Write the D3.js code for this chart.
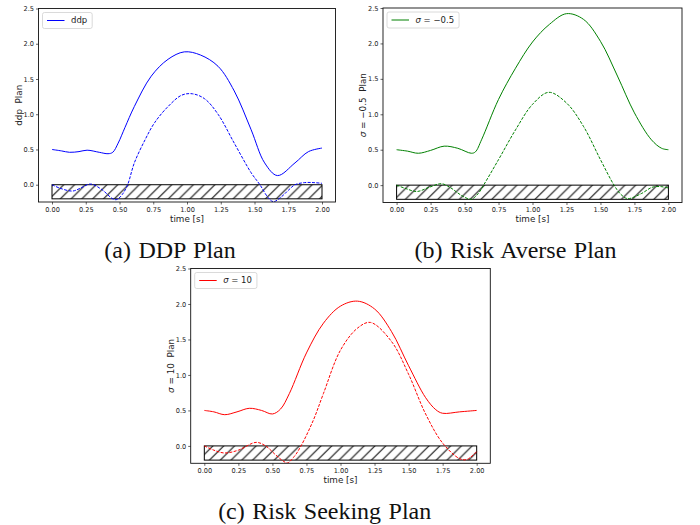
<!DOCTYPE html>
<html>
<head>
<meta charset="utf-8">
<script src="https://cdn.jsdelivr.net/npm/d3@7"></script>
<style>
  body { margin: 0; background: white; }
  .tick text { font-family: "DejaVu Sans", sans-serif; fill: #222; }
</style>
</head>
<body>
<div id="figure"></div>
<script>
// ---- data ----
let xTicks = [0, 0.25, 0.5, 0.75, 1.0, 1.25, 1.5, 1.75, 2.0];
let yTicks = [0, 0.5, 1.0, 1.5, 2.0, 2.5];
let obstacleTop = 0;
let obstacleBottom = -0.2;

// (a) DDP plan
let ddpSolidT = [0, 0.07, 0.13, 0.2, 0.26, 0.35, 0.415, 0.45, 0.49, 0.54, 0.61, 0.735, 0.86, 0.98, 1.1, 1.23, 1.35, 1.475, 1.575, 1.67, 1.8, 1.9, 2.0];
let ddpSolidV = [0.50, 0.48, 0.46, 0.47, 0.49, 0.46, 0.44, 0.46, 0.59, 0.81, 1.11, 1.54, 1.78, 1.885, 1.84, 1.68, 1.33, 0.78, 0.31, 0.13, 0.31, 0.47, 0.52];
let ddpDashT = [0, 0.06, 0.15, 0.21, 0.285, 0.37, 0.45, 0.48, 0.52, 0.56, 0.61, 0.69, 0.76, 0.86, 0.96, 1.04, 1.13, 1.23, 1.35, 1.475, 1.54, 1.6, 1.64, 1.7, 1.75, 1.8, 1.87, 1.94, 2.0];
let ddpDashV = [0, -0.05, -0.09, -0.05, 0.01, -0.07, -0.20, -0.21, -0.14, 0, 0.31, 0.64, 0.88, 1.11, 1.27, 1.29, 1.22, 1.0, 0.59, 0.17, 0, -0.18, -0.24, -0.17, -0.08, 0, 0.03, 0.03, 0.02];

// (b) risk averse, sigma = -0.5
let averseSolidT = [0, 0.08, 0.16, 0.25, 0.35, 0.45, 0.55, 0.58, 0.625, 0.75, 0.875, 1.0, 1.125, 1.25, 1.375, 1.5, 1.625, 1.75, 1.875, 1.95, 2.0];
let averseSolidV = [0.50, 0.48, 0.45, 0.49, 0.55, 0.52, 0.45, 0.47, 0.64, 1.21, 1.65, 2.02, 2.27, 2.42, 2.34, 2.03, 1.54, 1.02, 0.64, 0.52, 0.50];
let averseDashT = [0, 0.07, 0.15, 0.24, 0.33, 0.4, 0.45, 0.5, 0.55, 0.6, 0.64, 0.75, 0.875, 1.0, 1.12, 1.25, 1.375, 1.5, 1.6, 1.65, 1.7, 1.8, 1.88, 1.94, 2.0];
let averseDashV = [0, -0.05, -0.09, -0.03, 0.02, -0.04, -0.11, -0.17, -0.20, -0.12, 0, 0.36, 0.78, 1.14, 1.31, 1.16, 0.83, 0.36, 0, -0.13, -0.19, -0.12, -0.03, -0.02, -0.04];

// (c) risk seeking, sigma = 10
let seekingSolidT = [0, 0.07, 0.15, 0.24, 0.33, 0.42, 0.5, 0.56, 0.625, 0.75, 0.875, 1.0, 1.125, 1.25, 1.375, 1.5, 1.625, 1.7, 1.75, 1.875, 2.0];
let seekingSolidV = [0.50, 0.48, 0.44, 0.48, 0.53, 0.50, 0.45, 0.52, 0.74, 1.31, 1.73, 1.97, 2.04, 1.93, 1.61, 1.13, 0.68, 0.51, 0.46, 0.48, 0.50];
let seekingDashT = [0, 0.07, 0.15, 0.25, 0.38, 0.45, 0.52, 0.57, 0.61, 0.66, 0.71, 0.8, 0.875, 1.0, 1.125, 1.22, 1.375, 1.5, 1.625, 1.75, 1.875, 1.93, 2.0];
let seekingDashV = [0, -0.06, -0.10, -0.06, 0.05, 0.0, -0.12, -0.20, -0.24, -0.15, 0, 0.36, 0.74, 1.35, 1.66, 1.74, 1.47, 1.01, 0.45, 0.04, -0.18, -0.19, -0.08];

let panels = [
  {id: "a", left: 38.5, right: 335.5, top: 8.5, bottom: 202, color: "#0000ff",
   legend: [{t: "ddp"}], ylabel: [{t: "ddp  Plan"}], caption: "(a) DDP Plan", capX: 170, capY: 258,
   solid: [ddpSolidT, ddpSolidV], dash: [ddpDashT, ddpDashV]},
  {id: "b", left: 383, right: 682, top: 8, bottom: 202.5, color: "#008000",
   legend: [{t: "σ", it: true}, {t: " = −0.5"}], ylabel: [{t: "σ", it: true}, {t: " = −0.5  Plan"}],
   caption: "(b) Risk Averse Plan", capX: 515.5, capY: 258,
   solid: [averseSolidT, averseSolidV], dash: [averseDashT, averseDashV]},
  {id: "c", left: 190.7, right: 490.3, top: 268.5, bottom: 463.3, color: "#ff0000",
   legend: [{t: "σ", it: true}, {t: " = 10"}], ylabel: [{t: "σ", it: true}, {t: " = 10  Plan"}],
   caption: "(c) Risk Seeking Plan", capX: 324.7, capY: 518.5,
   solid: [seekingSolidT, seekingSolidV], dash: [seekingDashT, seekingDashV]}
];

let width = 700, height = 525;
let svg = d3.select("#figure").append("svg")
  .attr("width", width)
  .attr("height", height)
  .attr("viewBox", [0, 0, width, height]);

svg.append("rect").attr("width", width).attr("height", height).attr("fill", "white");

// hatch pattern for the obstacle band
let defs = svg.append("defs");
let hs = 10.8;
defs.append("pattern")
  .attr("id", "hatch")
  .attr("patternUnits", "userSpaceOnUse")
  .attr("width", hs).attr("height", hs)
  .append("path")
  .attr("d", `M-1,1 l2,-2 M0,${hs} l${hs},${-hs} M${hs - 1},${hs + 1} l2,-2`)
  .attr("stroke", "black")
  .attr("stroke-width", 1);

function addRich(sel, parts) {
  parts.forEach(p => {
    sel.append("tspan")
      .attr("font-style", p.it ? "italic" : null)
      .text(p.t);
  });
}

panels.forEach(p => {
  let x = d3.scaleLinear().domain([-0.1, 2.1]).range([p.left, p.right]);
  let y = d3.scaleLinear().domain([-0.245, 2.5]).range([p.bottom, p.top]);
  let g = svg.append("g");

  defs.append("clipPath").attr("id", "clip-" + p.id)
    .append("rect")
    .attr("x", p.left).attr("y", p.top)
    .attr("width", p.right - p.left).attr("height", p.bottom - p.top);

  // obstacle band
  g.append("rect")
    .attr("x", x(0))
    .attr("y", y(obstacleTop))
    .attr("width", x(2) - x(0))
    .attr("height", y(obstacleBottom) - y(obstacleTop))
    .attr("fill", "url(#hatch)")
    .attr("stroke", "black")
    .attr("stroke-width", 1);

  let line = d3.line()
    .x(d => x(d[0]))
    .y(d => y(d[1]))
    .curve(d3.curveCatmullRom.alpha(0.5));

  let lines = g.append("g").attr("clip-path", `url(#clip-${p.id})`)
    .attr("fill", "none")
    .attr("stroke", p.color)
    .attr("stroke-width", 1);

  lines.append("path")
    .attr("d", line(d3.zip(p.solid[0], p.solid[1])));
  lines.append("path")
    .attr("stroke-dasharray", "3,1.4")
    .attr("d", line(d3.zip(p.dash[0], p.dash[1])));

  // axes
  let xAxis = g.append("g")
    .attr("transform", `translate(0,${p.bottom})`)
    .call(d3.axisBottom(x).tickValues(xTicks).tickFormat(d3.format(".2f")).tickSize(2.5).tickPadding(2.5).tickSizeOuter(0));
  let yAxis = g.append("g")
    .attr("transform", `translate(${p.left},0)`)
    .call(d3.axisLeft(y).tickValues(yTicks).tickFormat(d3.format(".1f")).tickSize(2.5).tickPadding(2).tickSizeOuter(0));
  [xAxis, yAxis].forEach(a => {
    a.select(".domain").remove();
    a.selectAll(".tick line").attr("stroke", "#222").attr("stroke-width", 0.7);
    a.selectAll(".tick text").attr("font-size", 6.6);
  });

  // frame
  g.append("rect")
    .attr("x", p.left).attr("y", p.top)
    .attr("width", p.right - p.left).attr("height", p.bottom - p.top)
    .attr("fill", "none")
    .attr("stroke", "#111")
    .attr("stroke-width", 0.9);

  // axis labels
  g.append("text")
    .attr("x", (p.left + p.right) / 2)
    .attr("y", p.bottom + 19.5)
    .attr("text-anchor", "middle")
    .attr("font-family", "DejaVu Sans")
    .attr("font-size", 8.8)
    .attr("fill", "#222")
    .text("time [s]");

  let yl = g.append("text")
    .attr("transform", `translate(${p.left - 20},${(p.top + p.bottom) / 2}) rotate(-90)`)
    .attr("text-anchor", "middle")
    .attr("dy", "0.35em")
    .attr("font-family", "DejaVu Sans")
    .attr("font-size", 8.8)
    .attr("fill", "#222")
    .style("white-space", "pre");
  addRich(yl, p.ylabel);

  // legend
  let lg = g.append("g").attr("transform", `translate(${p.left + 4},${p.top + 4})`);
  let lbox = lg.append("rect")
    .attr("rx", 2)
    .attr("fill", "white")
    .attr("fill-opacity", 0.8)
    .attr("stroke", "#d0d0d0")
    .attr("stroke-width", 0.8);
  lg.append("line")
    .attr("x1", 4.5).attr("x2", 22)
    .attr("y1", 8).attr("y2", 8)
    .attr("stroke", p.color)
    .attr("stroke-width", 1);
  let lt = lg.append("text")
    .attr("x", 28.5).attr("y", 8)
    .attr("dy", "0.35em")
    .attr("font-family", "DejaVu Sans")
    .attr("font-size", 8.5)
    .attr("fill", "#222")
    .style("white-space", "pre");
  addRich(lt, p.legend);
  let tw = lt.node().getComputedTextLength();
  lbox.attr("width", 28.5 + tw + 5).attr("height", 16);

  // caption
  svg.append("text")
    .attr("x", p.capX)
    .attr("y", p.capY)
    .attr("text-anchor", "middle")
    .attr("font-family", "Liberation Serif")
    .attr("font-size", 24)
    .attr("word-spacing", 1.5)
    .attr("fill", "#111")
    .text(p.caption);
});
</script>
</body>
</html>
